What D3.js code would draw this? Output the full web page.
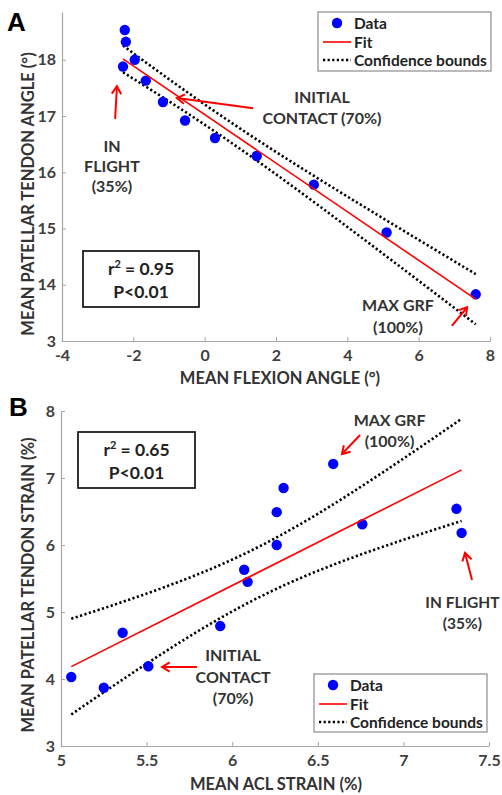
<!DOCTYPE html>
<html>
<head>
<meta charset="utf-8">
<script src="https://cdn.jsdelivr.net/npm/d3@7"></script>
<style>
  body { margin: 0; background: #fff; }
  svg text { font-family: Lato, "Open Sans", sans-serif; font-weight: bold; }
</style>
</head>
<body>
<div id="chart"></div>
<script>
// Panel A: flexion angle vs patellar tendon angle
var flexionA = [-2.24, -2.21, -1.96, -2.29, -1.65, -1.17, -0.55, 0.29, 1.46, 3.06, 5.10, 7.60];
var tendonAngleA = [18.53, 18.32, 18.00, 17.88, 17.63, 17.25, 16.92, 16.61, 16.29, 15.78, 14.93, 13.83];
var xTicksA = [-4, -2, 0, 2, 4, 6, 8];
var yTicksA = [13, 14, 15, 16, 17, 18];
var yTickLabelsA = ["3", "14", "15", "16", "17", "18"];

// Panel B: ACL strain vs patellar tendon strain
var aclStrainB = [5.06, 5.25, 5.36, 5.51, 5.93, 6.07, 6.09, 6.26, 6.26, 6.30, 6.59, 6.76, 7.31, 7.34];
var tendonStrainB = [4.03, 3.87, 4.69, 4.19, 4.79, 5.63, 5.45, 6.00, 6.49, 6.85, 7.21, 6.31, 6.54, 6.18];
var xTicksB = [5, 5.5, 6, 6.5, 7, 7.5];
var yTicksB = [3, 4, 5, 6, 7, 8];

// Student t (95%, two sided) for n-2 degrees of freedom
var tA = 2.228, tB = 2.179;

var svg = d3.select("#chart").append("svg")
  .attr("width", 502)
  .attr("height", 795);

// least squares fit with confidence band for the fitted line
function linFit(xs, ys, t) {
  var n = xs.length, mx = d3.mean(xs), my = d3.mean(ys);
  var sxx = d3.sum(xs, function (x) { return (x - mx) * (x - mx); });
  var sxy = d3.sum(xs, function (x, i) { return (x - mx) * (ys[i] - my); });
  var b = sxy / sxx, a = my - b * mx;
  var sse = d3.sum(xs, function (x, i) { var r = ys[i] - (a + b * x); return r * r; });
  var s = Math.sqrt(sse / (n - 2));
  return {
    f: function (x) { return a + b * x; },
    h: function (x) { return t * s * Math.sqrt(1 / n + (x - mx) * (x - mx) / sxx); },
    x0: d3.min(xs), x1: d3.max(xs)
  };
}

function arrow(g, x1, y1, x2, y2) {
  var ang = Math.atan2(y2 - y1, x2 - x1), L = 9, w = 0.55;
  g.append("line").attr("x1", x1).attr("y1", y1).attr("x2", x2).attr("y2", y2)
    .attr("stroke", "red").attr("stroke-width", 2);
  var p = [[x2 - L * Math.cos(ang - w), y2 - L * Math.sin(ang - w)], [x2, y2],
           [x2 - L * Math.cos(ang + w), y2 - L * Math.sin(ang + w)]];
  g.append("path").attr("d", d3.line()(p)).attr("fill", "none")
    .attr("stroke", "red").attr("stroke-width", 2);
}

function panel(cfg) {
  var g = svg.append("g");
  var x = cfg.x, y = cfg.y;

  // axes
  var xAxis = d3.axisBottom(x).tickValues(cfg.xTicks).tickSizeInner(-4).tickSizeOuter(0).tickPadding(9)
    .tickFormat(function (d) { return d; });
  var yAxis = d3.axisLeft(y).tickValues(cfg.yTicks).tickSizeInner(-4).tickSizeOuter(0).tickPadding(6)
    .tickFormat(function (d, i) { return cfg.yLabels ? cfg.yLabels[i] : d; });

  var gx = g.append("g").attr("transform", "translate(0," + y.range()[0] + ")").call(xAxis);
  var gy = g.append("g").attr("transform", "translate(" + x.range()[0] + ",0)").call(yAxis);
  [gx, gy].forEach(function (a) {
    a.select(".domain").attr("stroke", "#a6a6a6").attr("stroke-width", 1.2);
    a.selectAll(".tick line").attr("stroke", "#a6a6a6");
    a.selectAll(".tick text").attr("fill", "#404040").style("font-size", "16px");
  });

  // fit + bounds
  var fit = linFit(cfg.xs, cfg.ys, cfg.t);
  var samples = d3.range(0, 61).map(function (i) { return fit.x0 + (fit.x1 - fit.x0) * i / 60; });
  var up = d3.line().x(function (d) { return x(d); }).y(function (d) { return y(fit.f(d) + fit.h(d)); });
  var lo = d3.line().x(function (d) { return x(d); }).y(function (d) { return y(fit.f(d) - fit.h(d)); });
  [up, lo].forEach(function (ln) {
    g.append("path").attr("d", ln(samples)).attr("fill", "none")
      .attr("stroke", "#000").attr("stroke-width", 2.6).attr("stroke-dasharray", "2.2,2.4");
  });

  g.selectAll("circle.pt").data(cfg.xs).enter().append("circle")
    .attr("class", "pt")
    .attr("cx", function (d) { return x(d); })
    .attr("cy", function (d, i) { return y(cfg.ys[i]); })
    .attr("r", 5.2)
    .attr("fill", "#0000ff");

  g.append("line")
    .attr("x1", x(fit.x0)).attr("y1", y(fit.f(fit.x0)))
    .attr("x2", x(fit.x1)).attr("y2", y(fit.f(fit.x1)))
    .attr("stroke", "#ff0000").attr("stroke-width", 1.6);

  // axis titles
  g.append("text").attr("x", cfg.xTitlePos[0]).attr("y", cfg.xTitlePos[1])
    .attr("text-anchor", "middle").attr("fill", "#333").style("font-size", "16.5px").text(cfg.xTitle);
  g.append("text").attr("transform", "translate(" + cfg.yTitlePos[0] + "," + cfg.yTitlePos[1] + ") rotate(-90)")
    .attr("text-anchor", "middle").attr("fill", "#333").style("font-size", "16.5px").text(cfg.yTitle);

  // panel letter
  g.append("text").attr("x", cfg.letterPos[0]).attr("y", cfg.letterPos[1])
    .style("font-family", "'Liberation Sans', Arial, sans-serif").style("font-size", "26px")
    .attr("fill", "#000").text(cfg.letter);

  // stats box
  var b = cfg.statBox;
  g.append("rect").attr("x", b[0]).attr("y", b[1]).attr("width", b[2]).attr("height", b[3])
    .attr("fill", "#fff").attr("stroke", "#000").attr("stroke-width", 1.6);
  var cx = b[0] + b[2] / 2;
  var t1 = g.append("text").attr("x", cx).attr("y", b[1] + 24).attr("text-anchor", "middle")
    .attr("fill", "#222").style("font-size", "17.5px");
  t1.append("tspan").text("r");
  t1.append("tspan").attr("dy", -7).style("font-size", "11px").text("2");
  t1.append("tspan").attr("dy", 7).text(" = " + cfg.r2);
  g.append("text").attr("x", cx).attr("y", b[1] + 47).attr("text-anchor", "middle")
    .attr("fill", "#222").style("font-size", "17.5px").text("P<0.01");

  // legend
  var L = cfg.legend;
  g.append("rect").attr("x", L[0]).attr("y", L[1]).attr("width", L[2]).attr("height", L[3])
    .attr("fill", "#fff").attr("stroke", "#8c8c8c").attr("stroke-width", 1.2);
  var rowY = [L[1] + 11, L[1] + 30, L[1] + 48];
  g.append("circle").attr("cx", L[0] + 19).attr("cy", rowY[0]).attr("r", 5.2).attr("fill", "#0000ff");
  g.append("line").attr("x1", L[0] + 5).attr("x2", L[0] + 33).attr("y1", rowY[1]).attr("y2", rowY[1])
    .attr("stroke", "#ff0000").attr("stroke-width", 1.6);
  g.append("line").attr("x1", L[0] + 5).attr("x2", L[0] + 33).attr("y1", rowY[2]).attr("y2", rowY[2])
    .attr("stroke", "#000").attr("stroke-width", 2.6).attr("stroke-dasharray", "2.2,2.4");
  ["Data", "Fit", "Confidence bounds"].forEach(function (s, i) {
    g.append("text").attr("x", L[0] + 36).attr("y", rowY[i] + 5.5).attr("fill", "#222")
      .style("font-size", "15.5px").text(s);
  });

  // annotations (data coords)
  cfg.notes.forEach(function (n) {
    n.lines.forEach(function (s, i) {
      g.append("text").attr("x", x(n.tx)).attr("y", y(n.ty[i])).attr("dy", "0.36em")
        .attr("text-anchor", "middle").attr("fill", "#333").style("font-size", (n.size || 16) + "px").text(s);
    });
    arrow(g, x(n.a[0]), y(n.a[1]), x(n.a[2]), y(n.a[3]));
  });
}

panel({
  letter: "A", letterPos: [7, 31],
  x: d3.scaleLinear().domain([-4, 8]).range([62, 490]),
  y: d3.scaleLinear().domain([13, 18.85]).range([341, 12]),
  xTicks: xTicksA, yTicks: yTicksA, yLabels: yTickLabelsA,
  xs: flexionA, ys: tendonAngleA, t: tA,
  xTitle: "MEAN FLEXION ANGLE (\u00b0)", xTitlePos: [280, 384],
  yTitle: "MEAN PATELLAR TENDON ANGLE (\u00b0)", yTitlePos: [34, 194],
  statBox: [83, 251, 116, 56], r2: "0.95",
  legend: [318, 12, 173, 59],
  notes: [
    { lines: ["IN", "FLIGHT", "(35%)"], tx: -2.60, ty: [16.47, 16.11, 15.76], a: [-2.51, 16.95, -2.46, 17.53] },
    { lines: ["INITIAL", "CONTACT (70%)"], tx: 3.29, ty: [17.34, 16.96], a: [1.36, 17.14, -0.78, 17.32] },
    { lines: ["MAX GRF", "(100%)"], tx: 5.42, ty: [13.64, 13.25], a: [6.93, 13.27, 7.36, 13.60] }
  ]
});

panel({
  letter: "B", letterPos: [9, 416],
  x: d3.scaleLinear().domain([5, 7.5]).range([61, 489]),
  y: d3.scaleLinear().domain([3, 8]).range([746, 411]),
  xTicks: xTicksB, yTicks: yTicksB,
  xs: aclStrainB, ys: tendonStrainB, t: tB,
  xTitle: "MEAN ACL STRAIN (%)", xTitlePos: [276, 790],
  yTitle: "MEAN PATELLAR TENDON STRAIN (%)", yTitlePos: [34, 585],
  statBox: [78, 432, 117, 56], r2: "0.65",
  legend: [314, 674, 173, 58],
  notes: [
    { lines: ["MAX GRF", "(100%)"], tx: 6.919, ty: [7.866, 7.552], a: [6.747, 7.642, 6.641, 7.358] },
    { lines: ["IN FLIGHT", "(35%)"], tx: 7.345, ty: [5.149, 4.836], a: [7.401, 5.478, 7.360, 5.881], size: 15.5 },
    { lines: ["INITIAL", "CONTACT", "(70%)"], tx: 6.005, ty: [4.358, 4.030, 3.716], a: [5.794, 4.179, 5.590, 4.179] }
  ]
});
</script>
</body>
</html>
